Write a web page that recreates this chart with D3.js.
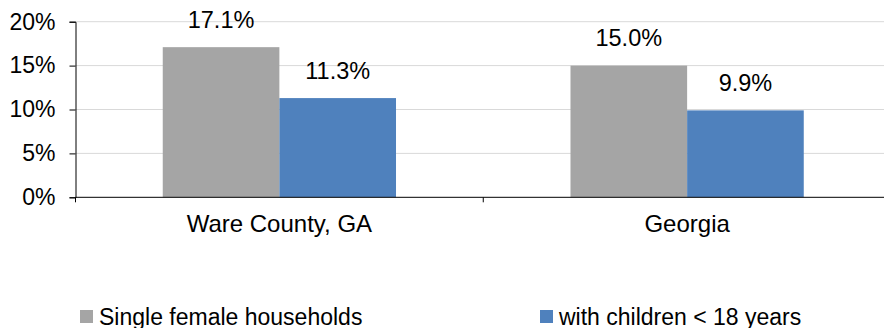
<!DOCTYPE html>
<html>
<head>
<meta charset="utf-8">
<script src="https://cdn.jsdelivr.net/npm/d3@7"></script>
<style>
  body { margin: 0; background: #fff; }
  svg { display: block; font-family: "Liberation Sans", Arial, sans-serif; }
</style>
</head>
<body>
<div id="chart"></div>
<script>
// data
const categories = ["Ware County, GA", "Georgia"];
const seriesNames = ["Single female households", "with children < 18 years"];
const singleFemale = [17.1, 15.0];
const withChildren = [11.3, 9.9];
const yTicks = [0, 5, 10, 15, 20];
const colors = ["#a5a5a5", "#4f81bd"];

const width = 884, height = 328;
const plotLeft = 75.5, plotRight = 891, plotTop = 21.7, plotBottom = 197.3;

const svg = d3.select("#chart")
  .append("svg")
  .attr("width", width)
  .attr("height", height);

// scales
const y = d3.scaleLinear().domain([0, 20]).range([plotBottom, plotTop]);
const x0 = d3.scaleBand().domain(categories).range([plotLeft, plotRight]);
const x1 = d3.scaleBand().domain(seriesNames).range([0, x0.bandwidth()]).paddingOuter(0.748);

// gridlines
svg.append("g")
  .selectAll("line")
  .data(yTicks.filter(d => d > 0))
  .join("line")
  .attr("x1", plotLeft).attr("x2", plotRight)
  .attr("y1", d => y(d)).attr("y2", d => y(d))
  .attr("stroke", "#d9d9d9")
  .attr("stroke-width", 1);

// bars
const rows = categories.map((c, i) => ({ cat: c, values: [singleFemale[i], withChildren[i]] }));

const groups = svg.append("g")
  .selectAll("g")
  .data(rows)
  .join("g")
  .attr("transform", d => `translate(${x0(d.cat)},0)`);

groups.selectAll("rect")
  .data(d => d.values.map((v, j) => ({ name: seriesNames[j], v: v, j: j })))
  .join("rect")
  .attr("x", d => x1(d.name))
  .attr("width", x1.bandwidth())
  .attr("y", d => y(d.v))
  .attr("height", d => y(0) - y(d.v))
  .attr("fill", d => colors[d.j]);

// value labels
groups.selectAll("text")
  .data(d => d.values.map((v, j) => ({ name: seriesNames[j], v: v })))
  .join("text")
  .attr("x", d => x1(d.name) + x1.bandwidth() / 2)
  .attr("y", d => y(d.v) - 19.5)
  .attr("text-anchor", "middle")
  .attr("font-size", 23.5)
  .attr("fill", "#000")
  .text(d => d.v.toFixed(1) + "%");

// y axis
const yAxis = svg.append("g")
  .attr("transform", `translate(${plotLeft},0)`)
  .call(d3.axisLeft(y).tickValues(yTicks).tickFormat(d => d + "%").tickSize(6).tickPadding(14));
yAxis.select(".domain").attr("stroke", "#000");
yAxis.selectAll(".tick line").attr("stroke", "#000");
yAxis.selectAll("text").attr("font-size", 23).attr("fill", "#000");
yAxis.attr("font-family", null);

// x axis
const xAxis = svg.append("g")
  .attr("transform", `translate(0,${plotBottom})`);
xAxis.append("line")
  .attr("x1", plotLeft).attr("x2", plotRight)
  .attr("stroke", "#000");
xAxis.selectAll(".xtick")
  .data([plotLeft, ...categories.map(c => x0(c) + x0.bandwidth())])
  .join("line")
  .attr("class", "xtick")
  .attr("x1", d => d).attr("x2", d => d)
  .attr("y1", 0).attr("y2", 5)
  .attr("stroke", "#000");
xAxis.selectAll(".xlabel")
  .data(categories)
  .join("text")
  .attr("class", "xlabel")
  .attr("x", d => x0(d) + x0.bandwidth() / 2)
  .attr("y", 35)
  .attr("text-anchor", "middle")
  .attr("font-size", 24)
  .attr("fill", "#000")
  .text(d => d);

// legend
const legendX = [80, 540];
const legend = svg.append("g")
  .selectAll("g")
  .data(seriesNames)
  .join("g")
  .attr("transform", (d, i) => `translate(${legendX[i]},310)`);
legend.append("rect")
  .attr("width", 13).attr("height", 13)
  .attr("fill", (d, i) => colors[i]);
legend.append("text")
  .attr("x", 19)
  .attr("y", 15)
  .attr("font-size", 23)
  .attr("fill", "#000")
  .text(d => d);
</script>
</body>
</html>
